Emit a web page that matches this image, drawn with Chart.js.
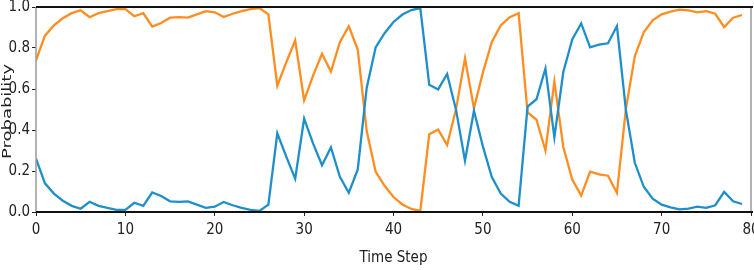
<!DOCTYPE html>
<html>
<head>
<meta charset="utf-8">
<script src="https://cdn.jsdelivr.net/npm/chart.js@4.4.1/dist/chart.umd.min.js"></script>
<style>
  html, body { margin: 0; padding: 0; background: #fff; }
  #wrap { width: 754px; height: 270px; }
</style>
</head>
<body>
<div id="wrap"><canvas id="probChart" width="754" height="270"></canvas></div>
<script>
// time steps 0..79
var timeSteps = [
  0, 1, 2, 3, 4, 5, 6, 7, 8, 9,
  10, 11, 12, 13, 14, 15, 16, 17, 18, 19,
  20, 21, 22, 23, 24, 25, 26, 27, 28, 29,
  30, 31, 32, 33, 34, 35, 36, 37, 38, 39,
  40, 41, 42, 43, 44, 45, 46, 47, 48, 49,
  50, 51, 52, 53, 54, 55, 56, 57, 58, 59,
  60, 61, 62, 63, 64, 65, 66, 67, 68, 69,
  70, 71, 72, 73, 74, 75, 76, 77, 78, 79
];

// blue series
var classA = [
  0.26, 0.14, 0.09, 0.055, 0.03, 0.016, 0.05, 0.03, 0.02, 0.01,
  0.01, 0.045, 0.03, 0.095, 0.078, 0.052, 0.049, 0.052, 0.036, 0.02,
  0.026, 0.049, 0.033, 0.02, 0.01, 0.005, 0.036, 0.384, 0.27, 0.163,
  0.455, 0.335, 0.228, 0.315, 0.172, 0.094, 0.208, 0.605, 0.803, 0.872,
  0.927, 0.963, 0.985, 0.995, 0.621, 0.598, 0.673, 0.498, 0.25, 0.494,
  0.32, 0.17, 0.09, 0.05, 0.03, 0.514, 0.55, 0.7, 0.364, 0.683,
  0.842, 0.92, 0.803, 0.816, 0.823, 0.907, 0.498, 0.24, 0.123, 0.065,
  0.036, 0.023, 0.013, 0.016, 0.026, 0.02, 0.033, 0.098, 0.052, 0.039
];

// orange series
var classB = [
  0.74, 0.86, 0.91, 0.945, 0.97, 0.984, 0.95, 0.97, 0.98, 0.99,
  0.99, 0.955, 0.97, 0.905, 0.922, 0.948, 0.951, 0.948, 0.964, 0.98,
  0.974, 0.951, 0.967, 0.98, 0.99, 0.995, 0.964, 0.616, 0.73, 0.837,
  0.545, 0.665, 0.772, 0.685, 0.828, 0.906, 0.792, 0.395, 0.197, 0.128,
  0.073, 0.037, 0.015, 0.005, 0.379, 0.402, 0.327, 0.502, 0.75, 0.506,
  0.68, 0.83, 0.91, 0.95, 0.97, 0.486, 0.45, 0.3, 0.636, 0.317,
  0.158, 0.08, 0.197, 0.184, 0.177, 0.093, 0.502, 0.76, 0.877, 0.935,
  0.964, 0.977, 0.987, 0.984, 0.974, 0.98, 0.967, 0.902, 0.948, 0.961
];

var xTicks = [0, 10, 20, 30, 40, 50, 60, 70, 80];
var yTicks = [0, 0.2, 0.4, 0.6, 0.8, 1.0];

function toPoints(values) {
  return values.map(function (v, i) { return { x: timeSteps[i], y: v }; });
}

// frame round the plot: black top/bottom, grey sides
var framePlugin = {
  id: "frame",
  afterDatasetsDraw: function (chart) {
    var ctx = chart.ctx, a = chart.chartArea;
    ctx.save();
    ctx.lineWidth = 1.5;
    ctx.strokeStyle = "#999";
    ctx.beginPath();
    ctx.moveTo(a.left, a.top); ctx.lineTo(a.left, a.bottom);
    ctx.moveTo(a.right, a.top); ctx.lineTo(a.right, a.bottom);
    ctx.stroke();
    ctx.strokeStyle = "#111";
    ctx.lineWidth = 2;
    ctx.beginPath();
    ctx.moveTo(a.left, a.top); ctx.lineTo(a.right + 2, a.top);
    ctx.moveTo(a.left, a.bottom); ctx.lineTo(a.right + 2, a.bottom);
    ctx.stroke();
    ctx.restore();
  }
};

// y title, drawn narrow like the source picture
var yTitlePlugin = {
  id: "yTitle",
  afterDraw: function (chart) {
    var ctx = chart.ctx, a = chart.chartArea;
    ctx.save();
    ctx.translate(8, (a.top + a.bottom) / 2 + 2);
    ctx.rotate(-Math.PI / 2);
    ctx.scale(1, 0.7);
    ctx.font = "18px 'DejaVu Sans'";
    ctx.fillStyle = "#222";
    ctx.textAlign = "center";
    ctx.textBaseline = "middle";
    ctx.fillText("Probability", 0, 0);
    ctx.restore();
  }
};

var tickFont = { family: "'Liberation Sans Narrow', 'DejaVu Sans Condensed', sans-serif", size: 15 };

var probCtx = document.getElementById("probChart").getContext("2d");

var probChart = new Chart(probCtx, {
  type: "line",
  data: {
    datasets: [
      {
        label: "A",
        data: toPoints(classA),
        borderColor: "#1f8fca",
        borderWidth: 2.3,
        pointRadius: 0,
        tension: 0
      },
      {
        label: "B",
        data: toPoints(classB),
        borderColor: "#ff8d21",
        borderWidth: 2.3,
        pointRadius: 0,
        tension: 0
      }
    ]
  },
  options: {
    responsive: false,
    animation: false,
    events: [],
    layout: { padding: { left: 0, right: 3, top: 7, bottom: 0 } },
    plugins: { legend: { display: false }, tooltip: { enabled: false } },
    scales: {
      x: {
        type: "linear",
        min: 0,
        max: 80,
        afterBuildTicks: function (s) { s.ticks = xTicks.map(function (v) { return { value: v }; }); },
        afterFit: function (s) { s.height = 58; s.paddingLeft = 0; s.paddingRight = 0; },
        grid: { drawOnChartArea: false, drawTicks: true, tickLength: 4, color: "#222" },
        border: { display: false },
        ticks: { color: "#222", font: tickFont, padding: 5, maxRotation: 0 },
        title: {
          display: true,
          text: "Time Step",
          color: "#222",
          font: tickFont,
          padding: { top: 0, bottom: 3 }
        }
      },
      y: {
        min: 0,
        max: 1,
        afterBuildTicks: function (s) { s.ticks = yTicks.map(function (v) { return { value: v }; }); },
        afterFit: function (s) { s.width = 36; s.paddingTop = 0; s.paddingBottom = 0; },
        grid: { drawOnChartArea: false, drawTicks: true, tickLength: 4, color: "#222" },
        border: { display: false },
        ticks: {
          color: "#222",
          font: tickFont,
          padding: 2,
          callback: function (v) { return v.toFixed(1); }
        }
      }
    }
  },
  plugins: [framePlugin, yTitlePlugin]
});
</script>
</body>
</html>
